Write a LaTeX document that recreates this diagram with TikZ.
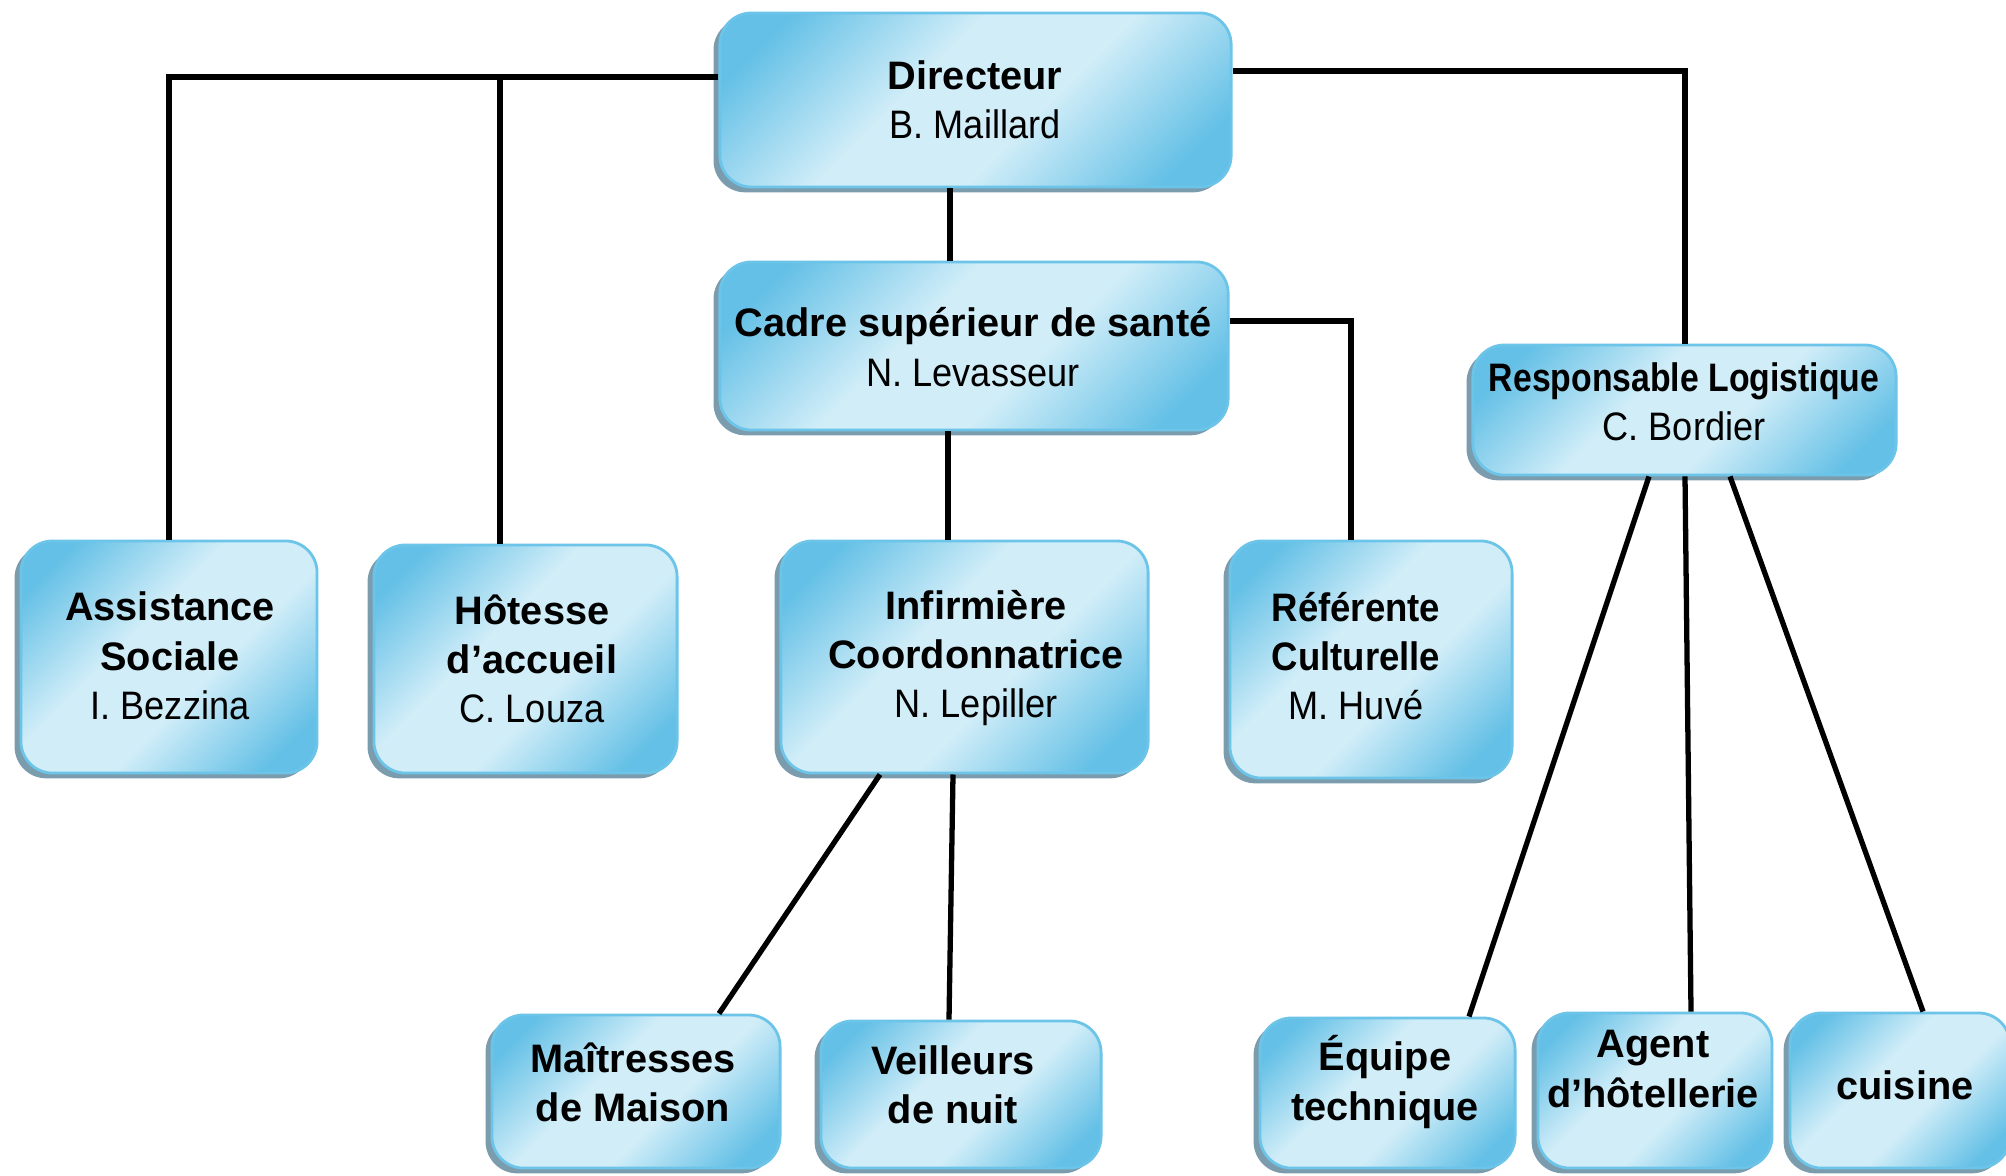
\documentclass[tikz,border=0pt]{standalone}
\usepackage{fontspec}
\setmainfont{Liberation Sans}
\usetikzlibrary{shadows}
\definecolor{boxdark}{RGB}{100,192,230}
\definecolor{boxlight}{RGB}{208,237,248}
\definecolor{boxline}{RGB}{108,196,233}
\definecolor{shadowc}{RGB}{122,156,172}
\pgfdeclareverticalshading{boxshade}{100bp}{color(0bp)=(boxdark); color(22bp)=(boxdark); color(42bp)=(boxlight); color(58bp)=(boxlight); color(78bp)=(boxdark); color(100bp)=(boxdark)}
\tikzset{
  box/.style={rectangle, rounded corners=9pt, draw=boxline, line width=0.8pt,
    shading=boxshade, shading angle=45,
    general shadow={fill=shadowc, shadow xshift=-1.8pt, shadow yshift=-1.5pt},
    inner sep=0pt},
  lbl/.style={align=center, inner sep=0pt, font=\fontsize{11.3}{14}\selectfont},
  conn/.style={draw=black, line width=1.5pt},
}
\newcommand{\nm}[1]{\scalebox{0.91}[1]{#1}}
\begin{document}
\begin{tikzpicture}[x=0.01cm, y=-0.01cm]
\useasboundingbox (0,0) rectangle (2006,1175);
% boxes
\node[box, minimum width=5.11cm, minimum height=1.74cm] (dir) at (975.5,100) {};
\node[box, minimum width=5.08cm, minimum height=1.68cm] (cad) at (974,346) {};
\node[box, minimum width=4.23cm, minimum height=1.30cm] (res) at (1684.5,410) {};
\node[box, minimum width=2.96cm, minimum height=2.32cm] (ass) at (169,657) {};
\node[box, minimum width=3.03cm, minimum height=2.28cm] (hot) at (525.5,659) {};
\node[box, minimum width=3.67cm, minimum height=2.32cm] (inf) at (964.5,657) {};
\node[box, minimum width=2.82cm, minimum height=2.37cm] (ref) at (1371,659.5) {};
\node[box, minimum width=2.88cm, minimum height=1.53cm] (mai) at (636,1091.5) {};
\node[box, minimum width=2.80cm, minimum height=1.47cm] (vei) at (961,1094.5) {};
\node[box, minimum width=2.55cm, minimum height=1.50cm] (equ) at (1387.5,1093) {};
\node[box, minimum width=2.34cm, minimum height=1.55cm] (age) at (1655,1090.5) {};
\node[box, minimum width=2.20cm, minimum height=1.55cm] (cui) at (1900,1090.5) {};
% texts
\node[lbl] (dirT) at (975,100) {\textbf{Directeur}\\\nm{B. Maillard}};
\node[lbl] (cadT) at (973,347) {\textbf{Cadre supérieur de santé}\\\nm{N. Levasseur}};
\node[lbl] (resT) at (1684,402) {\scalebox{0.85}[1]{\textbf{Responsable Logistique}}\\\nm{C. Bordier}};
\node[lbl] (assT) at (170,656) {\textbf{Assistance}\\\textbf{Sociale}\\\nm{I. Bezzina}};
\node[lbl] (hotT) at (532,659) {\textbf{Hôtesse}\\\textbf{d’accueil}\\\nm{C. Louza}};
\node[lbl] (infT) at (976,658) {\textbf{Infirmière}\\\textbf{Coordonnatrice}\\\nm{N. Lepiller}};
\node[lbl] (refT) at (1356,656) {\scalebox{0.92}[1]{\textbf{Référente}}\\\scalebox{0.92}[1]{\textbf{Culturelle}}\\\nm{M. Huvé}};
\node[lbl] (maiT) at (633,1082) {\textbf{Maîtresses}\\\textbf{de Maison}};
\node[lbl] (veiT) at (953,1085) {\textbf{Veilleurs}\\\textbf{de nuit}};
\node[lbl] (equT) at (1385,1082) {\textbf{Équipe}\\\textbf{technique}};
\node[lbl] (ageT) at (1653,1069) {\textbf{Agent}\\\textbf{d’hôtellerie}};
\node[lbl] (cuiT) at (1905,1085) {\textbf{cuisine}};
% junction coordinates
\coordinate (jA) at (169,77);
\coordinate (jH) at (500,77);
\coordinate (jR) at (1685,71);
\coordinate (jF) at (1351,321);
\coordinate (xDC) at (950,0);
\coordinate (xCI) at (948,0);
\coordinate (xI1) at (880,0);
\coordinate (xM) at (719,0);
\coordinate (xI2) at (953,0);
\coordinate (xV) at (949,0);
\coordinate (xR1) at (1649,0);
\coordinate (xE) at (1469,0);
\coordinate (xR2) at (1685,0);
\coordinate (xA) at (1691,0);
\coordinate (xR3) at (1730,0);
\coordinate (xC) at (1923,0);
% connectors
\draw[conn] (dir.west |- jA) -- (jA) -- (ass.north -| jA);
\draw[conn] (jH) -- (hot.north -| jH);
\draw[conn] (dir.east |- jR) -- (jR) -- (res.north -| jR);
\draw[conn] (dir.south -| xDC) -- (cad.north -| xDC);
\draw[conn] (cad.south -| xCI) -- (inf.north -| xCI);
\draw[conn] (cad.east |- jF) -- (jF) -- (ref.north -| jF);
\draw[conn] (inf.south -| xI1) -- (mai.north -| xM);
\draw[conn] (inf.south -| xI2) -- (vei.north -| xV);
\draw[conn] (res.south -| xR1) -- (equ.north -| xE);
\draw[conn] (res.south -| xR2) -- (age.north -| xA);
\draw[conn] (res.south -| xR3) -- (cui.north -| xC);
\end{tikzpicture}
\end{document}
